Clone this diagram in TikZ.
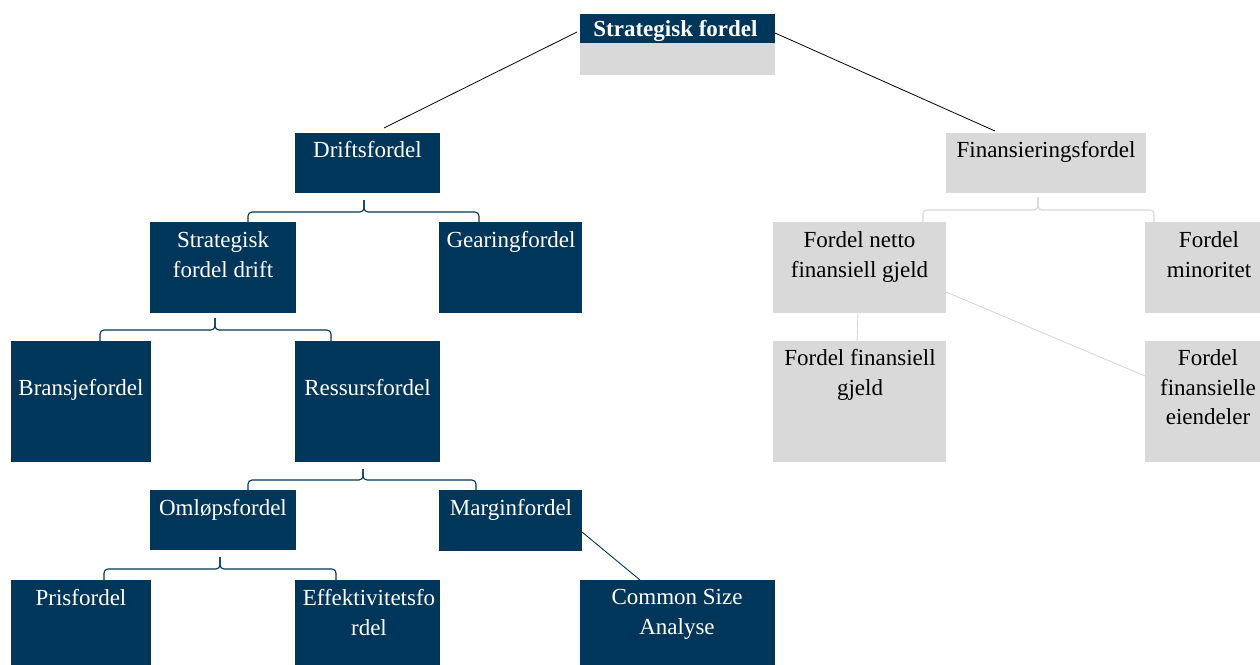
\documentclass[tikz,border=0pt]{standalone}
\usepackage{fontspec}
\setmainfont{Liberation Serif}
\usetikzlibrary{calc}
\definecolor{navy}{RGB}{0,54,90}
\definecolor{lgray}{RGB}{217,217,217}
\definecolor{lline}{RGB}{215,215,215}
\newcommand\mybrace[5]{%
  \coordinate (bt) at #2; \coordinate (bl) at #3; \coordinate (br) at #4;
  \draw[#1] (bl) -- ++(0,-#5) coordinate (bh) -- (bt |- bh) -- (bt);
  \draw[#1] (br) -- ++(0,-#5) -- (bt |- bh) -- (bt);
}
\begin{document}
\begin{tikzpicture}[x=1pt,y=-1pt,
  dbox/.style={fill=navy,draw=none,inner sep=0,outer sep=0},
  gbox/.style={fill=lgray,draw=none,inner sep=0,outer sep=0},
  wtxt/.style={text=white,font=\fontsize{23}{29.5}\selectfont,align=center,inner sep=0,anchor=north},
  btxt/.style={text=black,font=\fontsize{23}{29.5}\selectfont,align=center,inner sep=0,anchor=north},
  nbrace/.style={draw=navy,line width=1.1pt,rounded corners=4pt},
  gbrace/.style={draw=lline,line width=1.1pt,rounded corners=4pt},
  kline/.style={draw=black,line width=0.8pt},
  nline/.style={draw=navy,line width=0.9pt},
  gline/.style={draw=lline,line width=0.9pt}]
\clip (0,0) rectangle (1260,664);
% boxes
\node[gbox,minimum width=195,minimum height=32] (topb) at (677.5,59) {};
\node[dbox,minimum width=195,minimum height=29] (toph) at (677.5,28.5) {};
\node[dbox,minimum width=145,minimum height=60] (drift) at (367.5,163) {};
\node[gbox,minimum width=200,minimum height=60] (fin) at (1046,163) {};
\node[dbox,minimum width=146,minimum height=91] (sfd) at (223,267.5) {};
\node[dbox,minimum width=143,minimum height=91] (gear) at (510.5,267.5) {};
\node[gbox,minimum width=173,minimum height=91] (netto) at (859.5,267.5) {};
\node[gbox,minimum width=128,minimum height=91] (mino) at (1209,267.5) {};
\node[dbox,minimum width=140,minimum height=121] (bransje) at (81,401.5) {};
\node[dbox,minimum width=145,minimum height=121] (ressurs) at (367.5,401.5) {};
\node[gbox,minimum width=173,minimum height=121] (ffg) at (859.5,401.5) {};
\node[gbox,minimum width=128,minimum height=121] (eien) at (1209,401.5) {};
\node[dbox,minimum width=146,minimum height=60] (omlop) at (223,520) {};
\node[dbox,minimum width=143,minimum height=61] (margin) at (510.5,520.5) {};
\node[dbox,minimum width=140,minimum height=121] (pris) at (81,640.5) {};
\node[dbox,minimum width=145,minimum height=121] (effekt) at (367.5,640.5) {};
\node[dbox,minimum width=195,minimum height=121] (common) at (677.5,640.5) {};
% texts
\node[wtxt,font=\fontsize{23}{29.5}\selectfont\bfseries] (t0) at (675.5,20.5) {Strategisk fordel};
\node[wtxt] (t1) at (367.5,141.5) {Driftsfordel};
\node[btxt] (t2) at (1046,141.5) {Finansieringsfordel};
\node[wtxt] (t3) at (223,231.5) {Strategisk\\fordel drift};
\node[wtxt] (t4) at (511,231.5) {Gearingfordel};
\node[btxt] (t5) at (859.5,231.5) {Fordel netto\\finansiell gjeld};
\node[btxt] (t6) at (1209,231.5) {Fordel\\minoritet};
\node[wtxt] (t7) at (81,379.5) {Bransjefordel};
\node[wtxt] (t8) at (367.5,379.5) {Ressursfordel};
\node[btxt] (t9) at (860,349.5) {Fordel finansiell\\gjeld};
\node[btxt] (t10) at (1208,349.5) {Fordel\\finansielle\\eiendeler};
\node[wtxt] (t11) at (223,499.5) {Omløpsfordel};
\node[wtxt] (t12) at (511,499.5) {Marginfordel};
\node[wtxt] (t13) at (81,589.5) {Prisfordel};
\node[wtxt] (t14) at (369,589.5) {Effektivitetsfo\\rdel};
\node[wtxt] (t15) at (677,589.5) {Common Size\\Analyse};
% connectors
\draw[kline] ($(toph.west)+(-3,3.5)$) -- ($(drift.north)+(16.5,-5)$);
\draw[kline] ($(toph.east)+(0,4.5)$) -- ($(fin.north)+(-51,-2)$);
\mybrace{nbrace}{($(drift.south)+(-3.5,7)$)}{($(sfd.north)+(25,0)$)}{($(gear.north)+(-31.5,0)$)}{10}
\mybrace{nbrace}{($(sfd.south)+(-8,5)$)}{($(bransje.north)+(19,0)$)}{($(ressurs.north)+(-36.5,0)$)}{11}
\mybrace{nbrace}{($(ressurs.south)+(-4.5,7)$)}{($(omlop.north)+(25,0)$)}{($(margin.north)+(-34.5,0)$)}{10}
\mybrace{nbrace}{($(omlop.south)+(-3,7)$)}{($(pris.north)+(23,0)$)}{($(effekt.north)+(-31.5,0)$)}{11}
\mybrace{gbrace}{($(fin.south)+(-8,4)$)}{($(netto.north)+(63.5,0)$)}{($(mino.north)+(-55,0)$)}{12}
\draw[nline] ($(margin.east)+(0,11.5)$) -- ($(common.north)+(-37.5,0)$);
\draw[gline] ($(netto.south)+(-1.5,0)$) -- ($(ffg.north)+(-2.5,0)$);
\draw[gline] ($(netto.east)+(0,24.5)$) -- ($(eien.west)+(0,-25.5)$);
\end{tikzpicture}
\end{document}
